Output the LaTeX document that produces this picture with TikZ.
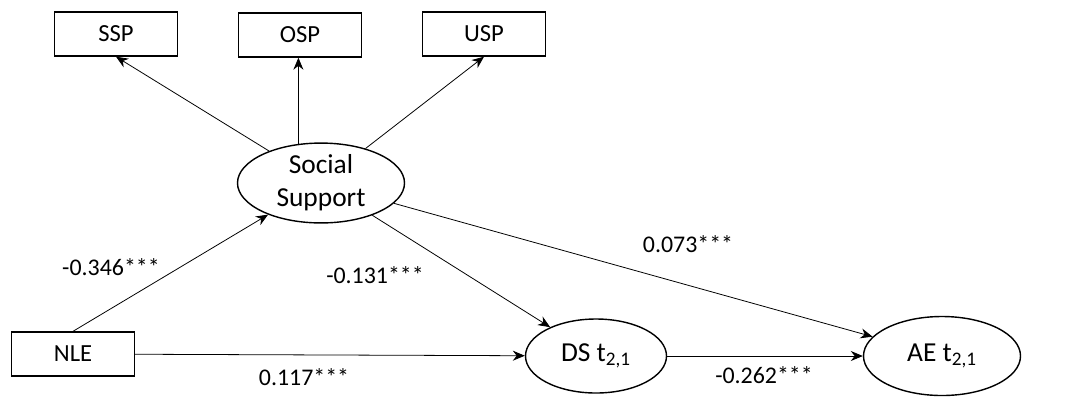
\documentclass[tikz,border=0pt]{standalone}
\usepackage{fontspec}
\setmainfont{Carlito}
\usepackage{tikz}
\usetikzlibrary{shapes.geometric}
\usetikzlibrary{arrows.meta}
\newcommand{\lblfont}{\fontsize{13.6}{16}\selectfont}
\tikzset{
  indbox/.style={draw, thick, minimum width=24.6mm, minimum height=8.8mm, inner sep=0pt, font=\fontsize{14}{16.5}\selectfont},
  latent/.style={draw, thick, ellipse, inner sep=0pt, align=center, font=\fontsize{15.6}{18.8}\selectfont},
  effect/.style={-{Stealth[length=2.4mm,width=2mm]}, line width=0.45pt},
  coef/.style={font=\lblfont, inner sep=0pt}
}

\begin{document}
\begin{tikzpicture}[x=0.2mm, y=-0.2mm]
    \useasboundingbox (0,0) rectangle (1070,397);
    % indicators
    \node[indbox] (ssp) at (116,34) {SSP};
    \node[indbox] (osp) at (300,35) {OSP};
    \node[indbox] (usp) at (484,34) {USP};
    \node[indbox] (nle) at (73,354) {NLE};
    % latent variables
    \node[latent, minimum width=33.4mm, minimum height=15.4mm] (ss) at (321,183) {Social\\Support};
    \node[latent, minimum width=28.2mm, minimum height=14.8mm] (ds) at (596,356) {DS t\textsubscript{2,1}};
    \node[latent, minimum width=31.4mm, minimum height=15.8mm] (ae) at (942,356) {AE t\textsubscript{2,1}};

    \draw[effect] (ss) -- (ssp.south);
    \draw[effect] (ss.120) -- (ss.120 |- osp.south);
    \draw[effect] (ss) -- (usp.south);
    \draw[effect] (nle.north) -- (ss);
    \draw[effect] (ss) -- (ds);
    \draw[effect] (ss) -- (ae);
    \draw[effect] (nle) -- (ds);
    \draw[effect] (ds) -- (ae);

    \node[coef] (c1) at (111,267) {-0.346***};
    \node[coef] (c2) at (375,275) {-0.131***};
    \node[coef] (c3) at (304,377) {0.117***};
    \node[coef] (c4) at (688,244) {0.073***};
    \node[coef] (c5) at (764,375) {-0.262***};
\end{tikzpicture}
\end{document}
